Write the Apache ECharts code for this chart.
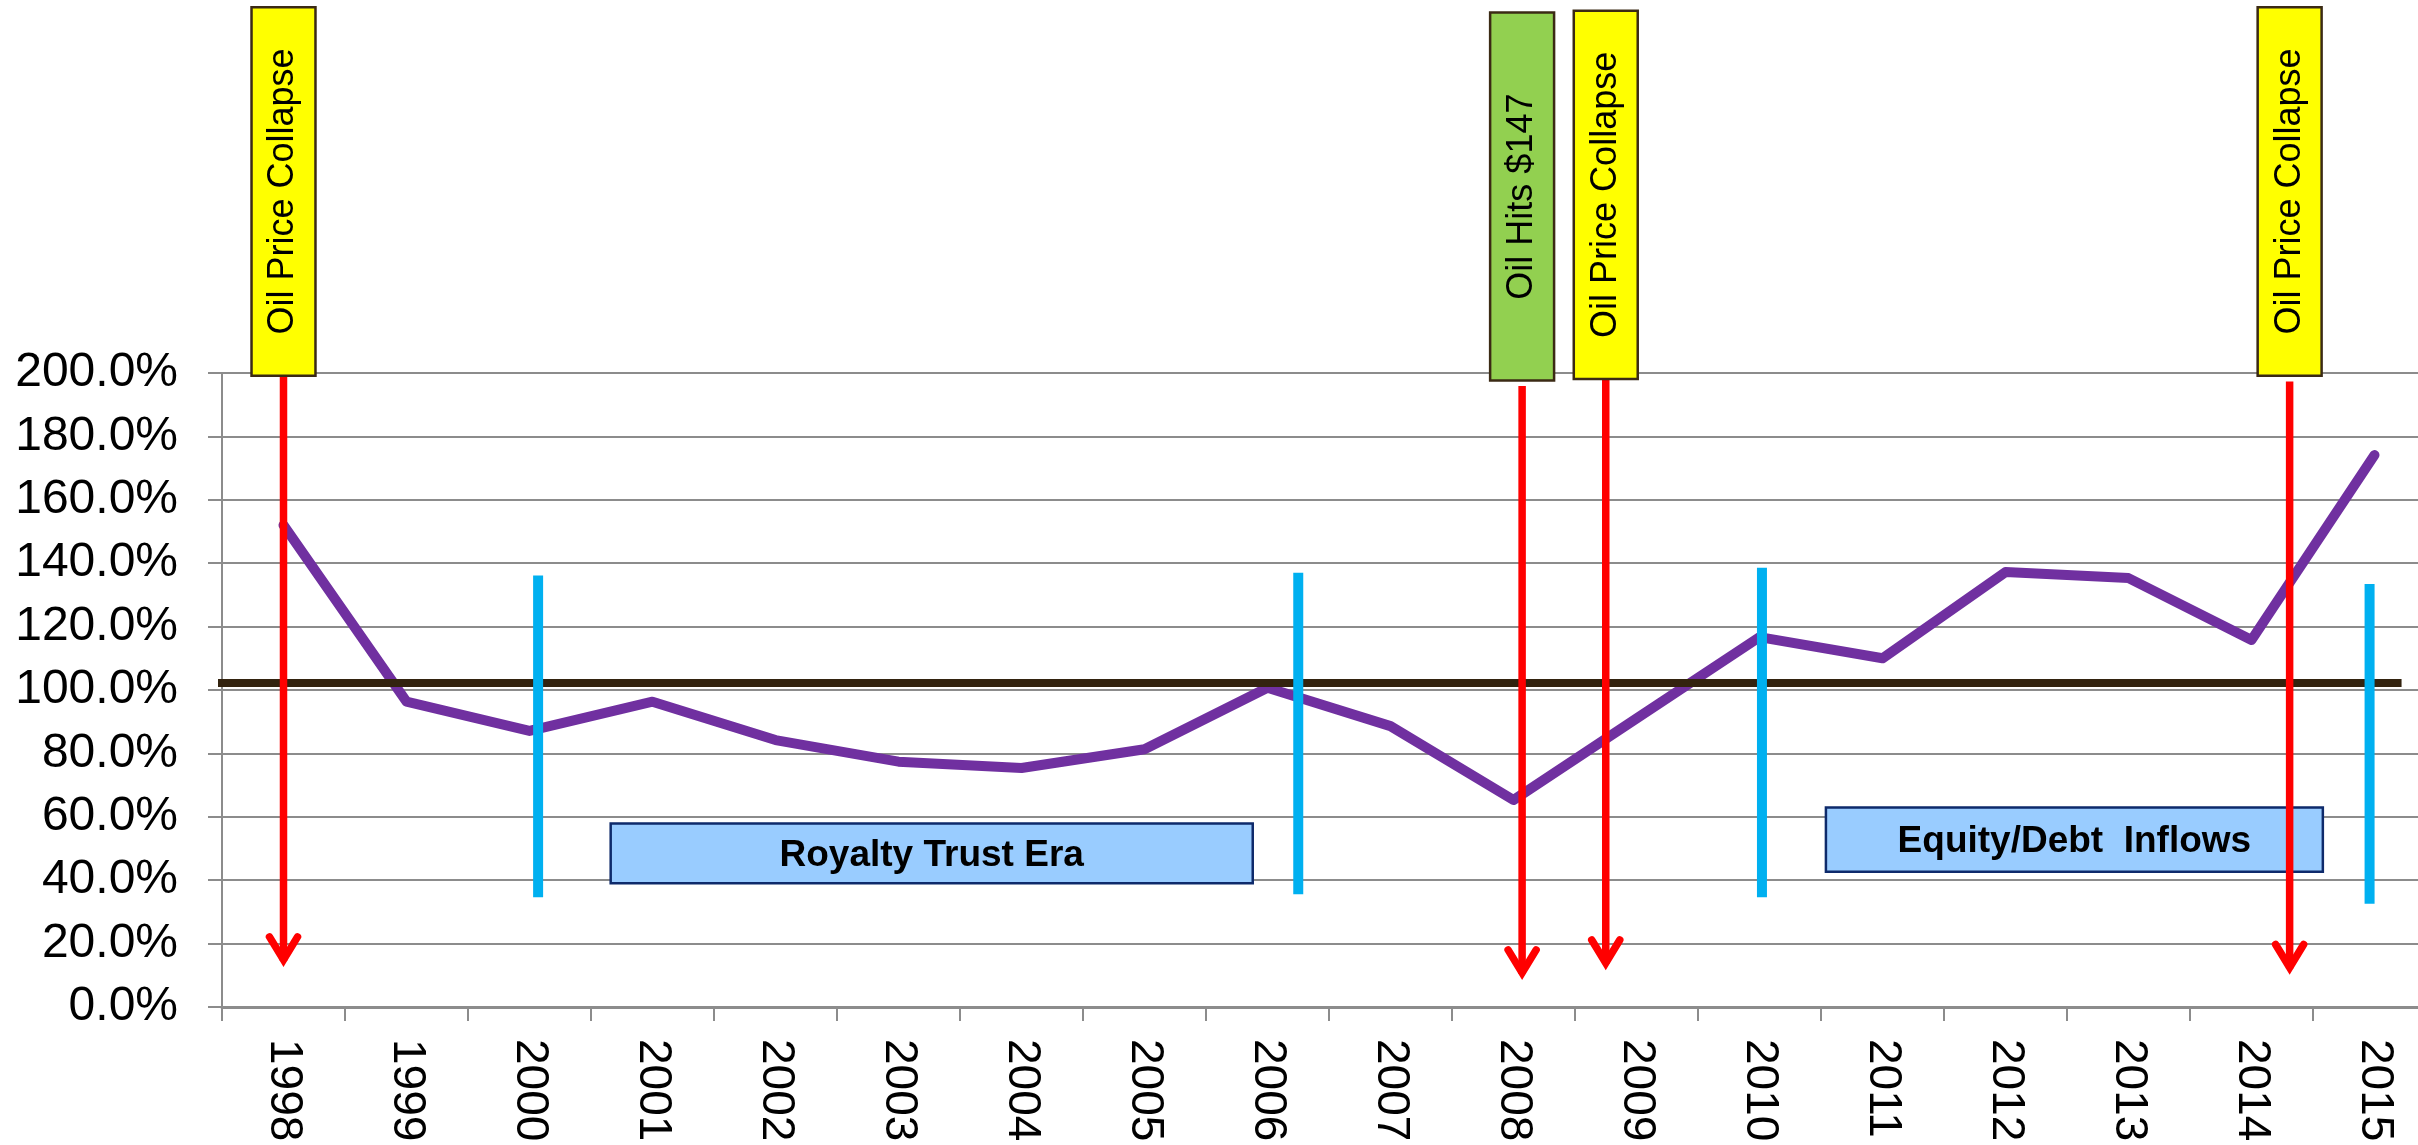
<!DOCTYPE html>
<html>
<head>
<meta charset="utf-8">
<script src="https://cdn.jsdelivr.net/npm/echarts@6/dist/echarts.min.js"></script>
<style>
  html, body { margin: 0; padding: 0; background: #ffffff; }
  #chart { width: 2418px; height: 1145px; }
</style>
</head>
<body>
<div id="chart"></div>
<script>
// ---- Series data ----
const years = ['1998','1999','2000','2001','2002','2003','2004','2005','2006',
               '2007','2008','2009','2010','2011','2012','2013','2014','2015'];
const ratio = [152, 96.3, 87.1, 96.3, 84.2, 77.4, 75.4, 81.3, 100.7,
               88.6, 65.3, 91, 116.7, 110, 137.2, 135.3, 115.8, 174.1];

// y axis ticks (percent)
const yMin = 0, yMax = 200, yStep = 20;

// ---- Event markers (position on the year scale) ----
const eventPos    = [1998.0, 2008.07, 2008.75, 2014.31];
const eventText   = ['Oil Price Collapse', 'Oil Hits $147', 'Oil Price Collapse', 'Oil Price Collapse'];
const eventFill   = ['#FFFF00', '#92D050', '#FFFF00', '#FFFF00'];
const eventBoxTop = [315.4, 313.7, 314.3, 315.4];
const eventBoxBot = [199.1, 197.6, 198.1, 199.1];
const arrowFrom   = [199.1, 195.9, 198.1, 197.3];
const arrowTo     = [13.6, 9.5, 12.6, 11.2];

// ---- Era dividers ----
const dividerPos = [2000.07, 2006.25, 2010.02, 2014.96];
const dividerTop = [136.1, 137.0, 138.6, 133.4];
const dividerBot = [34.6, 35.6, 34.6, 32.6];

// ---- Era labels ----
const eraText = ['Royalty Trust Era', 'Equity/Debt  Inflows'];
const eraFrom = [2000.66, 2010.54];
const eraTo   = [2005.88, 2014.58];
const eraTop  = [57.9, 62.9];
const eraBot  = [39.0, 42.7];

// ---- 100% reference line ----
const parLevel = 102.2;
const parFrom = 1997.14, parTo = 2015.22;

const FONT = "'Liberation Sans', Arial, sans-serif";
const EVENT_HALF_W = 0.26;

const chart = echarts.init(document.getElementById('chart'), null, { renderer: 'canvas' });

const option = {
  animation: false,
  backgroundColor: '#ffffff',
  grid: { left: 222, top: 373, right: -18, bottom: 138, outerBoundsMode: 'none', containLabel: false },
  xAxis: [
    {
      type: 'category',
      data: years,
      boundaryGap: true,
      axisLine: { show: true, lineStyle: { color: '#8c8c8c', width: 3 } },
      axisTick: { show: true, interval: 0, length: 14, lineStyle: { color: '#8c8c8c', width: 2 } },
      axisLabel: { interval: 0, rotate: -90, margin: 32, fontSize: 46, fontFamily: FONT, color: '#000000' },
      splitLine: { show: false }
    },
    {
      type: 'value', min: 1997.5, max: 2015.5, show: false
    }
  ],
  yAxis: {
    type: 'value',
    min: yMin, max: yMax, interval: yStep,
    axisLine: { show: true, lineStyle: { color: '#8c8c8c', width: 2 } },
    axisTick: { show: true, length: 14, lineStyle: { color: '#8c8c8c', width: 2 } },
    axisLabel: {
      margin: 44, fontSize: 48, fontFamily: FONT, color: '#000000',
      formatter: v => v.toFixed(1) + '%'
    },
    splitLine: { show: true, lineStyle: { color: '#8c8c8c', width: 2 } }
  },
  series: [
    {
      name: 'ratio',
      type: 'line',
      data: ratio,
      xAxisIndex: 0,
      symbol: 'none',
      z: 2,
      lineStyle: { color: '#7030A0', width: 10, cap: 'round', join: 'round' }
    },
    {
      name: 'par',
      type: 'line',
      xAxisIndex: 1,
      clip: false,
      symbol: 'none',
      z: 3,
      data: [[parFrom, parLevel], [parTo, parLevel]],
      lineStyle: { color: '#33230F', width: 8 }
    },
    {
      name: 'dividers',
      type: 'custom',
      xAxisIndex: 1,
      clip: false,
      z: 4,
      data: dividerPos.map((x, i) => [x, dividerTop[i], dividerBot[i]]),
      renderItem: (params, api) => {
        const a = api.coord([api.value(0), api.value(1)]);
        const b = api.coord([api.value(0), api.value(2)]);
        return {
          type: 'line',
          shape: { x1: a[0], y1: a[1], x2: b[0], y2: b[1] },
          style: { stroke: '#00B0F0', lineWidth: 10 }
        };
      }
    },
    {
      name: 'eras',
      type: 'custom',
      xAxisIndex: 1,
      clip: false,
      z: 5,
      data: eraFrom.map((x, i) => [x, eraTo[i], eraTop[i], eraBot[i]]),
      renderItem: (params, api) => {
        const i = params.dataIndex;
        const p0 = api.coord([api.value(0), api.value(2)]);
        const p1 = api.coord([api.value(1), api.value(3)]);
        return {
          type: 'group',
          children: [
            {
              type: 'rect',
              shape: { x: p0[0], y: p0[1], width: p1[0] - p0[0], height: p1[1] - p0[1] },
              style: { fill: '#99CCFF', stroke: '#0E2A6B', lineWidth: 2.5 }
            },
            {
              type: 'text',
              x: (p0[0] + p1[0]) / 2,
              y: (p0[1] + p1[1]) / 2 + 2,
              style: {
                text: eraText[i], fontSize: 37, fontWeight: 'bold', fontFamily: FONT,
                fill: '#000000', align: 'center', verticalAlign: 'middle'
              }
            }
          ]
        };
      }
    },
    {
      name: 'events',
      type: 'custom',
      xAxisIndex: 1,
      clip: false,
      z: 6,
      data: eventPos.map((x, i) => [x, eventBoxTop[i], eventBoxBot[i], arrowFrom[i], arrowTo[i]]),
      renderItem: (params, api) => {
        const i = params.dataIndex;
        const x = api.value(0);
        const b0 = api.coord([x - EVENT_HALF_W, api.value(1)]);
        const b1 = api.coord([x + EVENT_HALF_W, api.value(2)]);
        const s = api.coord([x, api.value(3)]);
        const t = api.coord([x, api.value(4)]);
        return {
          type: 'group',
          children: [
            {
              type: 'line',
              shape: { x1: s[0], y1: s[1], x2: t[0], y2: t[1] - 3 },
              style: { stroke: '#FF0000', lineWidth: 7.5 }
            },
            {
              type: 'polyline',
              shape: { points: [[t[0] - 14, t[1] - 27], [t[0], t[1] - 4], [t[0] + 14, t[1] - 27]] },
              style: { stroke: '#FF0000', fill: null, lineWidth: 7.5, lineCap: 'round', lineJoin: 'miter' }
            },
            {
              type: 'rect',
              shape: { x: b0[0], y: b0[1], width: b1[0] - b0[0], height: b1[1] - b0[1] },
              style: { fill: eventFill[i], stroke: '#3B2A14', lineWidth: 2.5 }
            },
            {
              type: 'text',
              x: (b0[0] + b1[0]) / 2,
              y: (b0[1] + b1[1]) / 2,
              rotation: Math.PI / 2,
              style: {
                text: eventText[i], fontSize: 36, fontFamily: FONT, fill: '#000000',
                align: 'center', verticalAlign: 'middle'
              }
            }
          ]
        };
      }
    }
  ]
};

chart.setOption(option);
</script>
</body>
</html>
